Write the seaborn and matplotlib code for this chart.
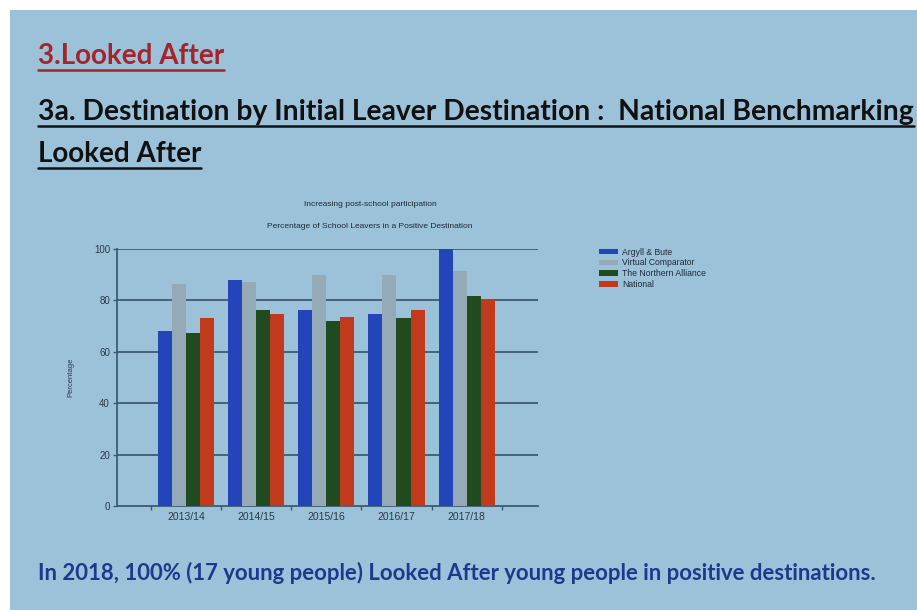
import pandas as pd
import matplotlib
matplotlib.use('Agg')
import matplotlib.pyplot as plt
from matplotlib.patches import Patch
from matplotlib.lines import Line2D
import seaborn as sns

# data
years = ['2013/14', '2014/15', '2015/16', '2016/17', '2017/18']
series = ['Argyll & Bute', 'Virtual Comparator', 'The Northern Alliance', 'National']
argyll = [68.1, 88.1, 76.4, 74.8, 100.0]
virtual = [86.4, 87.3, 89.9, 89.9, 91.4]
northern = [67.2, 76.4, 72.0, 73.3, 81.7]
national = [73.3, 74.7, 73.7, 76.3, 80.4]
colors = ['#2445b9', '#94aab6', '#1f4b1f', '#c13a1c']

rows = []
for name, vals in zip(series, [argyll, virtual, northern, national]):
    for y, v in zip(years, vals):
        rows.append({'year': y, 'series': name, 'value': v})
df = pd.DataFrame(rows)

bg = '#9cc2da'
sns.set_style('white')
plt.rcParams['font.family'] = ['Liberation Sans', 'DejaVu Sans']

fig = plt.figure(figsize=(9.17, 6.10), dpi=100)
fig.patch.set_facecolor('white')
# blue slide area, white strip on top and left
fig.add_artist(plt.Rectangle((10 / 917, 0), 1, 1 - 10 / 610, transform=fig.transFigure,
                             facecolor=bg, edgecolor='none', zorder=0))

ax = fig.add_axes([117 / 917, 104 / 610, 421 / 917, 257 / 610])
ax.set_facecolor('none')
sns.barplot(data=df, x='year', y='value', hue='series', palette=colors, saturation=1,
            width=0.8, ax=ax, legend=False, zorder=3, linewidth=0, edgecolor='none')
ax.set_xlim(-0.99, 5.02)
ax.set_ylim(0, 100)
ax.set_yticks([0, 20, 40, 60, 80, 100])
for yv in [20, 40, 60, 80, 100]:
    ax.axhline(yv, color='#3d5a70', lw=1.3, zorder=1)
ax.set_xticks([-0.5, 0.5, 1.5, 2.5, 3.5, 4.5], minor=True)
ax.tick_params(axis='x', which='major', bottom=False, labelsize=7.5, colors='#2a3a48', pad=1)
ax.tick_params(axis='x', which='minor', bottom=True, length=3, width=1, color='#3d5a70',
               direction='out')
ax.tick_params(axis='y', left=True, length=3, width=1, color='#3d5a70', labelsize=7,
               labelcolor='#2a3a48', pad=2)
for s in ['top', 'right']:
    ax.spines[s].set_visible(False)
ax.spines['left'].set_color('#3d5a70')
ax.spines['bottom'].set_color('#3d5a70')
ax.spines['left'].set_linewidth(1.3)
ax.spines['bottom'].set_linewidth(1.3)
ax.set_xlabel('')
ax.set_ylabel('Percentage', fontsize=5.5, color='#2a3a48', labelpad=14)

fig.text(370 / 917, 1 - 205 / 610, 'Increasing post-school participation', fontsize=6,
         ha='center', va='center', color='#1e2a36')
fig.text(370 / 917, 1 - 226 / 610, 'Percentage of School Leavers in a Positive Destination',
         fontsize=6, ha='center', va='center', color='#1e2a36')

handles = [Patch(facecolor=c, edgecolor='none') for c in colors]
fig.legend(handles, series, loc='upper left', bbox_to_anchor=(591 / 917, 1 - 240 / 610),
           frameon=False, fontsize=6.2, handlelength=2.2, handleheight=0.6,
           handletextpad=0.5, labelspacing=0.2, labelcolor='#1e2a36')

# slide headings
t1 = fig.text(38 / 917, 1 - 56 / 610, '3.Looked After', fontsize=20, fontweight='bold',
              color='#a5232b', ha='left', va='center', family=['Lato', 'DejaVu Sans'])
t2 = fig.text(38 / 917, 1 - 112 / 610,
              '3a. Destination by Initial Leaver Destination :  National Benchmarking',
              fontsize=20.3, fontweight='bold', color='#111111', ha='left', va='center',
              family=['Lato', 'DejaVu Sans'])
t3 = fig.text(38 / 917, 1 - 154 / 610, 'Looked After', fontsize=20, fontweight='bold',
              color='#111111', ha='left', va='center', family=['Lato', 'DejaVu Sans'])
fig.text(38 / 917, 1 - 573 / 610,
         'In 2018, 100% (17 young people) Looked After young people in positive destinations.',
         fontsize=15.9, fontweight='bold', color='#1b3a8f', ha='left', va='center',
         family=['Lato', 'DejaVu Sans'])

# underline the headings
fig.canvas.draw()
r = fig.canvas.get_renderer()
for t, col in [(t1, '#a5232b'), (t2, '#111111'), (t3, '#111111')]:
    bb = t.get_window_extent(r)
    y = bb.y0 - 1
    fig.add_artist(Line2D([bb.x0 / 917, bb.x1 / 917], [y / 610, y / 610],
                          transform=fig.transFigure, color=col, lw=1.8))

fig.savefig('out.png', dpi=100, facecolor=fig.get_facecolor())
